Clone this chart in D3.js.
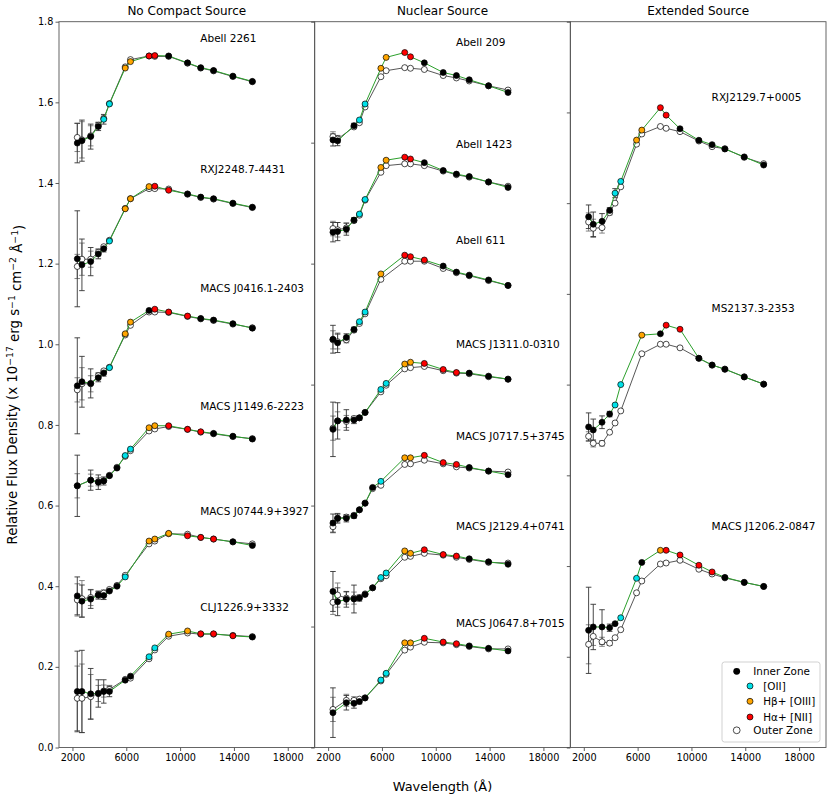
<!DOCTYPE html>
<html><head><meta charset="utf-8">
<script src="https://cdn.jsdelivr.net/npm/d3@7"></script>
<style>
body{margin:0;background:#fff}
svg{display:block}
text{font-family:"DejaVu Sans",sans-serif;fill:#000}
</style>
</head><body>
<svg id="chart" width="830" height="801"></svg>
<script>
// ---------------- DATA ----------------
const FILTERS = ["F225W","F275W","F336W","F390W","F435W","F475W","F555W","F606W","F625W",
                 "F775W","F814W","F850LP","F105W","F110W","F125W","F140W","F160W"];
const WAVELENGTHS = [2359,2704,3355,3921,4325,4747,5308,5921,6312,7693,8120,9150,10552,11534,12486,13923,15369];

const PANEL_TITLES = ["No Compact Source","Nuclear Source","Extended Source"];
const PANEL_YMAX = [1.8, 1.2, 1.6];
const X_TICKS = [2000, 6000, 10000, 14000, 18000];
const Y_TICKS_P1 = [0.0,0.2,0.4,0.6,0.8,1.0,1.2,1.4,1.6,1.8];
const Y_TICKS_P2 = [0.0,0.2,0.4,0.6,0.8,1.0,1.2];
const Y_TICKS_P3 = [0.0,0.2,0.4,0.6,0.8,1.0,1.2,1.4,1.6];

const CLUSTER_NAMES = ["Abell 2261","RXJ2248.7-4431","MACS J0416.1-2403","MACS J1149.6-2223","MACS J0744.9+3927","CLJ1226.9+3332",
  "Abell 209","Abell 1423","Abell 611","MACS J1311.0-0310","MACS J0717.5+3745","MACS J2129.4+0741","MACS J0647.8+7015",
  "RXJ2129.7+0005","MS2137.3-2353","MACS J1206.2-0847"];
const CLUSTER_PANEL = [0,0,0,0,0,0, 1,1,1,1,1,1,1, 2,2,2];
const LABEL_WAVE = 11500;
const LABEL_Y = [1.759,1.433,1.139,0.845,0.585,0.348, 1.166,0.998,0.838,0.666,0.514,0.366,0.206, 1.4325,0.968,0.488];

// inner zone flux per filter (null = no data)
const INNER = [
 [1.499,1.505,1.515,1.540,1.558,1.596,null,1.685,1.701,1.715,1.716,1.715,1.698,1.686,1.679,1.665,1.652],
 [1.212,1.197,1.205,1.224,1.237,1.256,null,1.336,1.361,1.391,1.392,1.382,1.373,1.365,1.361,1.350,1.340],
 [0.897,0.907,0.903,0.917,0.929,0.942,null,1.026,1.055,1.084,1.087,1.080,1.070,1.064,1.060,1.051,1.040],
 [0.649,null,0.663,0.658,0.661,0.674,0.693,0.724,0.740,0.793,0.798,0.798,0.789,0.783,0.779,0.772,0.765],
 [0.376,0.363,0.368,0.378,0.377,0.388,0.400,0.423,null,0.512,0.517,0.531,0.525,0.521,0.517,0.510,0.501],
 [0.139,0.139,0.133,0.134,0.139,0.139,null,0.167,0.177,0.225,0.247,0.281,0.289,0.282,0.282,0.277,0.274],
 [1.0045,1.003,null,1.028,1.0375,1.064,null,1.123,1.141,1.149,1.142,1.132,1.116,1.111,1.104,1.094,1.083],
 [0.852,0.853,0.857,0.872,0.882,0.906,null,0.959,0.971,0.976,0.973,0.967,0.954,0.948,0.944,0.935,0.926],
 [0.675,0.669,0.678,0.691,0.704,0.720,null,0.783,null,0.814,0.8115,0.806,0.796,0.786,0.781,0.773,0.764],
 [0.526,0.540,0.5415,0.5415,0.545,0.554,null,0.592,0.602,0.634,0.637,0.635,0.625,0.620,0.619,0.614,0.609],
 [0.371,0.379,0.379,0.383,0.393,0.404,0.430,0.440,null,0.479,0.479,0.483,0.471,0.468,0.463,0.457,0.451],
 [0.258,0.241,0.245,0.2455,0.247,0.253,0.264,0.281,0.2885,0.325,0.321,0.327,0.319,0.3165,0.312,0.307,0.303],
 [0.0576,null,0.074,0.073,0.076,0.082,null,0.1116,0.1227,0.173,0.173,0.1805,0.1744,0.1716,0.168,0.164,0.1596],
 [1.170,1.1534,1.160,1.184,1.222,1.248,null,1.339,1.361,1.4105,1.394,1.364,1.3386,1.329,1.3194,1.302,1.284],
 [0.7066,0.700,0.717,0.735,0.755,0.800,null,null,0.909,0.912,0.931,0.922,0.858,0.843,0.834,0.817,0.801],
 [0.2583,0.2657,0.2657,0.264,0.273,0.286,null,0.373,0.408,0.4347,0.4347,0.4244,0.4017,0.387,0.375,0.364,0.355]
];
// outer zone flux per filter
const OUTER = [
 [1.513,1.507,1.517,1.543,1.560,1.597,null,1.688,1.706,1.715,1.714,1.714,1.697,1.685,1.678,1.664,1.651],
 [1.193,1.211,1.211,1.228,1.242,1.258,null,1.337,1.361,1.386,1.386,1.385,1.372,1.364,1.360,1.349,1.339],
 [0.887,0.902,0.902,0.922,0.934,0.943,null,1.023,1.047,1.080,1.080,1.079,1.069,1.063,1.059,1.050,1.041],
 [0.649,null,0.663,0.659,0.662,0.675,0.695,0.722,0.736,0.785,0.790,0.796,0.789,0.782,0.778,0.771,0.766],
 [0.366,0.369,0.372,0.379,0.383,0.392,0.402,0.427,null,0.505,0.512,0.530,0.529,0.521,0.517,0.510,0.505],
 [0.122,0.122,0.126,0.134,0.140,0.144,null,0.169,0.172,0.220,0.242,0.276,0.284,0.281,0.281,0.278,0.275],
 [1.010,1.006,null,1.026,1.033,1.059,null,1.109,1.119,1.124,1.123,1.121,1.111,1.107,1.102,1.094,1.087],
 [0.858,0.856,0.859,0.871,0.880,0.905,null,0.951,0.962,0.965,0.965,0.962,0.953,0.947,0.943,0.935,0.928],
 [0.674,0.671,0.674,0.690,0.701,0.717,null,0.774,null,0.804,0.804,0.804,0.792,0.785,0.780,0.772,0.764],
 [0.528,0.540,0.539,0.544,0.545,0.554,null,0.588,0.599,0.626,0.628,0.630,0.623,0.619,0.618,0.613,0.609],
 [0.365,0.379,0.381,0.384,0.393,0.404,0.428,0.4335,null,0.468,0.469,0.475,0.469,0.464,0.462,0.457,0.4555],
 [0.240,0.252,0.247,0.247,0.248,0.254,0.264,0.279,0.284,0.3145,0.316,0.321,0.318,0.3145,0.311,0.306,0.305],
 [0.063,null,0.078,0.078,0.080,0.082,null,0.110,0.121,0.161,0.166,0.174,0.173,0.170,0.167,0.163,0.163],
 [1.1585,1.1446,1.146,1.179,1.200,1.236,null,1.330,1.3525,1.369,1.365,1.3576,1.337,1.3245,1.320,1.301,1.287],
 [0.686,0.6706,0.6706,0.695,0.7154,0.742,null,null,0.868,0.889,0.889,0.881,0.858,0.843,0.834,0.817,0.801],
 [0.2275,0.245,0.233,0.230,0.242,0.2597,null,0.341,0.367,0.4045,0.4067,0.4127,0.393,0.3825,0.374,0.364,0.355]
];
// uncertainties of the bluest filters (rest are negligible)
const INNER_ERR = [
 [0.049,0.051,0.031,0.010,0.012],
 [0.119,0.064,0.035,0.012,0.008],
 [0.119,0.063,0.036,0.010,0.008],
 [0.076,null,0.025,0.018,0.010],
 [0.047,0.040,0.023,0.010,0.010],
 [0.100,0.102,0.063,0.034,0.029,0.013],
 [0.010,0.008,null,0.004],
 [0.016,0.015,0.010,0.004],
 [0.023,0.016,0.006,0.004],
 [0.045,0.030,0.017,0.006,0.004],
 [0.015,0.008,0.006,0.004],
 [0.033,0.023,0.013,0.023,0.005],
 [0.041,null,0.012,0.008,0.004],
 [0.026,0.027,0.017,0.006,0.010],
 [0.031,0.024,0.014,0.006],
 [0.095,0.050,0.038,0.008]
];
const OUTER_ERR = [
 [0.035,0.045,0.025,0.008,0.006],
 [0.030,0.040,0.020,0.008],
 [0.030,0.040,0.020,0.008],
 [0.030,null,0.015,0.010],
 [0.040,0.045,0.020,0.008,0.008],
 [0.080,0.085,0.055,0.020,0.015,0.010],
 [0.008,0.006],
 [0.012,0.012,0.008],
 [0.015,0.012,0.005],
 [0.020,0.015,0.010],
 [0.010,0.006],
 [0.020,0.020,0.010,0.010],
 [0.020,null,0.010,0.006],
 [0.020,0.020,0.012,0.005],
 [0.010,0.008,0.006],
 [0.043,0.020,0.010,0.005]
];
// emission-line flag of each inner point: k none, c [OII], o Hb+[OIII], r Ha+[NII]
const LINE_FLAGS = [
 "kkkkcc-oorrkkkkkk",
 "kkkkkc-ooorrkkkkk",
 "kkkkkc-ookrrrkkkk",
 "k-kkkkkccoorrrkkk",
 "kkkkkkkc-ooorrrkk",
 "kkkkkk-kkccoorrrk",
 "kk-kcc-oorrkkkkkk",
 "kkkkcc-oorrkkkkkk",
 "kkkkcc-o-rrrkkkkk",
 "kkkkkk-ccoorrrkkk",
 "kkkkkkkc-oorrrkkk",
 "kkkkkkkccoorrrkkk",
 "k-kkkk-ccoorrrkkk",
 "kkkkcc-oorrkkkkkk",
 "kkkkcc--okrrkkkkk",
 "kkkkkc-ckorrrrkkk"
];
const LEGEND_LABELS = ["Inner Zone","[OII]","H\u03b2+ [OIII]","H\u03b1+ [NII]","Outer Zone"];

// ---------------- LAYOUT / STYLE ----------------
const FLAG_COLOR = {k:"#000000", c:"#00e1e8", o:"#ffa500", r:"#ff0000"};
const INNER_LINE = "#2ca02c", OUTER_LINE = "#444444";
const LEFT = 59, RIGHT = 826, TOP = 21.7, BOTTOM = 747.5;
const PW = (RIGHT - LEFT) / 3;
const R = 3.0;

const svg = d3.select("#chart");

const panels = [0,1,2].map(i => {
  const x0 = LEFT + i*PW, x1 = LEFT + (i+1)*PW;
  return {
    x: d3.scaleLinear().domain([1000,20000]).range([x0,x1]),
    y: d3.scaleLinear().domain([0,PANEL_YMAX[i]]).range([BOTTOM,TOP]),
    x0, x1
  };
});
const YTICKS = [Y_TICKS_P1, Y_TICKS_P2, Y_TICKS_P3];

panels.forEach((p,i) => {
  const g = svg.append("g");
  const xa = g.append("g").attr("transform",`translate(0,${BOTTOM})`)
    .call(d3.axisBottom(p.x).tickValues(X_TICKS).tickSize(3.5).tickPadding(3).tickFormat(d3.format("d")));
  const ya = g.append("g").attr("transform",`translate(${p.x0},0)`)
    .call(d3.axisLeft(p.y).tickValues(YTICKS[i]).tickSize(3.5).tickPadding(2.2)
      .tickFormat(i===0 ? d3.format(".1f") : ""));
  [xa,ya].forEach(a => {
    a.select(".domain").remove();
    a.selectAll("line").attr("stroke","#333").attr("stroke-width",0.8);
    a.selectAll("text").style("font-size","9.7px").style("font-family","DejaVu Sans").attr("fill","#000");
  });
  g.append("rect").attr("x",p.x0).attr("y",TOP).attr("width",p.x1-p.x0).attr("height",BOTTOM-TOP)
    .attr("fill","none").attr("stroke","#555").attr("stroke-width",0.9);
  g.append("text").attr("x",(p.x0+p.x1)/2).attr("y",TOP-6.5).attr("text-anchor","middle")
    .style("font-size","12px").text(PANEL_TITLES[i]);
});

function pts(vals, errs, c) {
  const out = [];
  vals.forEach((v,j) => {
    if (v === null) return;
    const e = (errs && errs[j] != null) ? errs[j] : 0;
    out.push({w: WAVELENGTHS[j], v, e, f: LINE_FLAGS[c][j]});
  });
  return out;
}

CLUSTER_NAMES.forEach((name,c) => {
  const p = panels[CLUSTER_PANEL[c]];
  const g = svg.append("g");
  const line = d3.line().x(d => p.x(d.w)).y(d => p.y(d.v));
  const outer = pts(OUTER[c], OUTER_ERR[c], c);
  const inner = pts(INNER[c], INNER_ERR[c], c);

  const drawErr = (data, color) => {
    data.filter(d => d.e > 0).forEach(d => {
      const xx = p.x(d.w), y1 = p.y(d.v - d.e), y2 = p.y(d.v + d.e);
      g.append("line").attr("x1",xx).attr("x2",xx).attr("y1",y1).attr("y2",y2)
        .attr("stroke",color).attr("stroke-width",0.9);
      [y1,y2].forEach(yy => g.append("line").attr("x1",xx-2.8).attr("x2",xx+2.8).attr("y1",yy).attr("y2",yy)
        .attr("stroke",color).attr("stroke-width",0.9));
    });
  };
  drawErr(outer, "#777");
  drawErr(inner, "#333");

  g.append("path").datum(outer).attr("d",line).attr("fill","none").attr("stroke",OUTER_LINE).attr("stroke-width",0.9);
  g.selectAll(null).data(outer).join("circle")
    .attr("cx",d => p.x(d.w)).attr("cy",d => p.y(d.v)).attr("r",R)
    .attr("fill","#fff").attr("stroke","#000").attr("stroke-width",0.7);

  g.append("path").datum(inner).attr("d",line).attr("fill","none").attr("stroke",INNER_LINE).attr("stroke-width",1);
  g.selectAll(null).data(inner).join("circle")
    .attr("cx",d => p.x(d.w)).attr("cy",d => p.y(d.v)).attr("r",R)
    .attr("fill",d => FLAG_COLOR[d.f]).attr("stroke","#000").attr("stroke-width",0.7);

  g.append("text").attr("x",p.x(LABEL_WAVE)).attr("y",p.y(LABEL_Y[c])).attr("dy","0.35em")
    .style("font-size","10.5px").text(name);
});

// axis labels
svg.append("text").attr("x",(LEFT+RIGHT)/2).attr("y",791).attr("text-anchor","middle")
  .style("font-size","12.9px").text("Wavelength (\u00c5)");
const yl = svg.append("text").attr("transform",`translate(17,${(TOP+BOTTOM)/2}) rotate(-90)`)
  .attr("text-anchor","middle").style("font-size","13.3px");
const SUP = "9.3px";
yl.append("tspan").text("Relative Flux Density (x 10");
yl.append("tspan").attr("dy","-0.45em").style("font-size",SUP).text("\u221217");
yl.append("tspan").attr("dy","0.45em").text(" erg s");
yl.append("tspan").attr("dy","-0.45em").style("font-size",SUP).text("\u22121");
yl.append("tspan").attr("dy","0.45em").text(" cm");
yl.append("tspan").attr("dy","-0.45em").style("font-size",SUP).text("\u22122");
yl.append("tspan").attr("dy","0.45em").text(" \u00c5");
yl.append("tspan").attr("dy","-0.45em").style("font-size",SUP).text("\u22121");
yl.append("tspan").attr("dy","0.45em").text(")");

// legend
const lg = svg.append("g");
lg.append("rect").attr("x",722).attr("y",662).attr("width",98).attr("height",80).attr("rx",2.5)
  .attr("fill","#fff").attr("fill-opacity",0.85).attr("stroke","#cccccc").attr("stroke-width",0.9);
const LEG_ROWS = [
  {fill:"#000", cx:736.7, tx:753.3, y:671.3},
  {fill:FLAG_COLOR.c, cx:750, tx:763.3, y:686},
  {fill:FLAG_COLOR.o, cx:750, tx:763.3, y:701.3},
  {fill:FLAG_COLOR.r, cx:750, tx:763.3, y:717},
  {fill:"#fff", cx:736.7, tx:753.3, y:730.3}
];
LEG_ROWS.forEach((r,i) => {
  lg.append("circle").attr("cx",r.cx).attr("cy",r.y).attr("r",i===0||i===4?3.4:3)
    .attr("fill",r.fill).attr("stroke",i===0?"none":"#000").attr("stroke-width",0.7);
  lg.append("text").attr("x",r.tx).attr("y",r.y).attr("dy","0.35em").style("font-size","10.4px").text(LEGEND_LABELS[i]);
});
</script>
</body></html>
